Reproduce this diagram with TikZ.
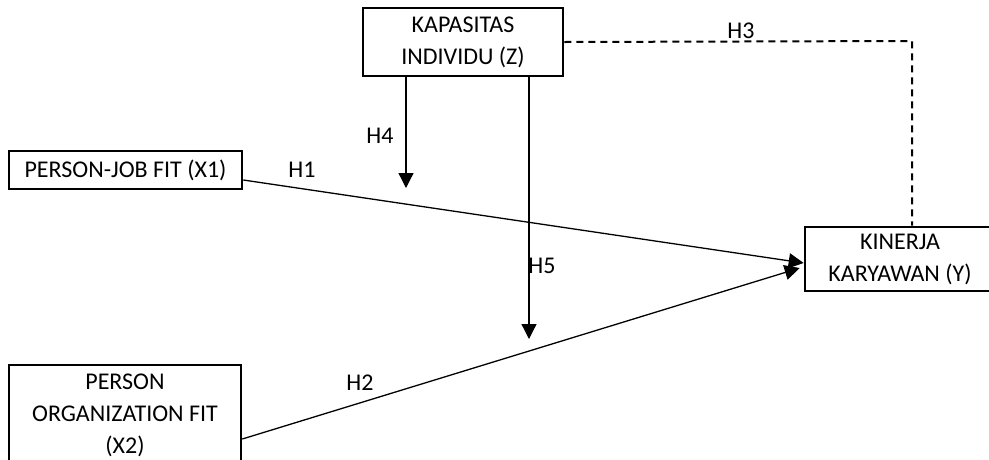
\documentclass[tikz,border=0pt]{standalone}
\usepackage{fontspec}
\setmainfont{Carlito}
\usetikzlibrary{arrows.meta}
\tikzset{
  box/.style={draw, line width=2.6pt, rectangle, align=center, inner sep=0pt,
    font=\fontsize{24}{32}\selectfont},
  lbl/.style={font=\fontsize{24}{32}\selectfont, inner sep=0pt},
  conn/.style={line width=1.3pt},
  arr/.style={conn, -{Triangle[length=15pt,width=15pt]}},
  dash3/.style={line width=2pt, dash pattern=on 7pt off 5pt}
}
\begin{document}
\begin{tikzpicture}[x=1pt,y=-1pt]
\useasboundingbox (0,0) rectangle (989,459);
\node[box, minimum width=200pt, minimum height=68pt] (Z) at (463,42) {KAPASITAS\\INDIVIDU (Z)};
\node[box, minimum width=233pt, minimum height=38pt] (X1) at (125.5,170) {PERSON-JOB FIT (X1)};
\node[box, minimum width=232pt, minimum height=100pt] (X2) at (125,415) {PERSON\\ORGANIZATION FIT\\(X2)};
\node[box, minimum width=190pt, minimum height=64pt] (Y) at (900,259) {KINERJA\\KARYAWAN (Y)};
\coordinate (h4end) at (406,188);
\coordinate (h5end) at (529,339);
\coordinate (h3corner) at (912,41);
% H1 and H2
\draw[arr] ([yshift=-10pt]X1.east) -- ([yshift=-4pt]Y.west);
\draw[arr] ([yshift=-24pt]X2.east) -- ([xshift=-4pt,yshift=-9pt]Y.west);
% H4 and H5
\draw[arr] (Z.south -| h4end) -- (h4end);
\draw[arr] (Z.south -| h5end) -- (h5end);
% H3
\draw[dash3] (Z.east) -- (h3corner) -- (Y.north -| h3corner);
% labels
\node[lbl] (lH3) at (741,31) {H3};
\node[lbl] (lH4) at (380,136) {H4};
\node[lbl] (lH1) at (302,170) {H1};
\node[lbl] (lH5) at (542,266) {H5};
\node[lbl] (lH2) at (360,383) {H2};
\end{tikzpicture}
\end{document}
